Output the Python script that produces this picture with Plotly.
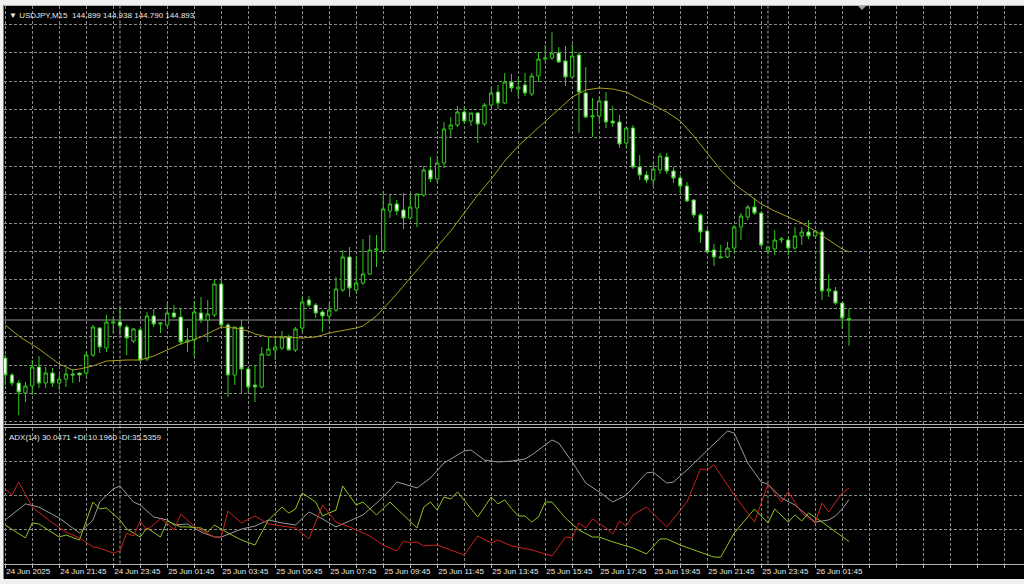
import plotly.graph_objects as go
import pandas as pd

W, H = 1024, 584

symbol = "USDJPY,M15"
start_time = "2025-06-24 19:45"

# ---- price bars (M15) ----
opens = [144.741, 144.673, 144.641, 144.601, 144.629, 144.705, 144.641, 144.681, 144.641, 144.657,
         144.677, 144.681, 144.681, 144.753, 144.861, 144.781, 144.881, 144.885, 144.865, 144.809,
         144.853, 144.737, 144.909, 144.877, 144.873, 144.921, 144.905, 144.805, 144.813, 144.921,
         144.893, 144.913, 145.037, 144.873, 144.673, 144.865, 144.697, 144.633, 144.625, 144.753,
         144.773, 144.781, 144.825, 144.773, 144.861, 144.973, 144.953, 144.925, 144.909, 144.933,
         145.013, 145.145, 145.013, 145.041, 145.077, 145.173, 145.169, 145.329, 145.357, 145.333,
         145.301, 145.341, 145.393, 145.493, 145.457, 145.521, 145.657, 145.673, 145.725, 145.689,
         145.721, 145.677, 145.753, 145.805, 145.761, 145.845, 145.817, 145.833, 145.797, 145.869,
         145.937, 145.941, 145.961, 145.929, 145.865, 145.953, 145.801, 145.705, 145.709, 145.769,
         145.689, 145.685, 145.601, 145.661, 145.505, 145.473, 145.453, 145.493, 145.545, 145.489,
         145.461, 145.429, 145.373, 145.313, 145.249, 145.173, 145.141, 145.145, 145.181, 145.265,
         145.305, 145.345, 145.321, 145.173, 145.177, 145.213, 145.213, 145.181, 145.229, 145.245,
         145.229, 145.245, 145.009, 145.009, 144.961, 144.899]
highs = [144.753, 144.681, 144.653, 144.645, 144.733, 144.749, 144.705, 144.701, 144.677, 144.701,
         144.697, 144.685, 144.765, 144.873, 144.865, 144.913, 144.905, 144.945, 144.873, 144.861,
         144.861, 144.925, 144.937, 144.885, 144.961, 144.953, 144.937, 144.861, 144.969, 144.985,
         144.973, 145.053, 145.061, 144.881, 144.865, 144.893, 144.705, 144.713, 144.785, 144.825,
         144.825, 144.849, 144.833, 144.865, 144.985, 144.989, 144.961, 144.933, 144.961, 145.065,
         145.173, 145.185, 145.145, 145.217, 145.233, 145.233, 145.409, 145.393, 145.373, 145.401,
         145.393, 145.401, 145.509, 145.545, 145.549, 145.685, 145.705, 145.749, 145.745, 145.721,
         145.725, 145.761, 145.825, 145.833, 145.881, 145.877, 145.861, 145.881, 145.881, 145.965,
         145.993, 146.045, 145.985, 145.989, 145.997, 145.965, 145.905, 145.781, 145.785, 145.805,
         145.749, 145.713, 145.665, 145.673, 145.553, 145.489, 145.525, 145.561, 145.561, 145.505,
         145.473, 145.445, 145.377, 145.321, 145.257, 145.197, 145.193, 145.205, 145.273, 145.321,
         145.353, 145.381, 145.329, 145.185, 145.253, 145.225, 145.225, 145.265, 145.265, 145.293,
         145.253, 145.253, 145.077, 145.025, 144.961, 144.938]
lows = [144.633, 144.629, 144.513, 144.565, 144.593, 144.621, 144.621, 144.625, 144.613, 144.625,
        144.641, 144.645, 144.665, 144.745, 144.761, 144.765, 144.841, 144.833, 144.753, 144.801,
        144.725, 144.729, 144.865, 144.841, 144.865, 144.901, 144.793, 144.765, 144.745, 144.881,
        144.805, 144.905, 144.865, 144.585, 144.633, 144.601, 144.601, 144.565, 144.621, 144.749,
        144.733, 144.773, 144.773, 144.765, 144.845, 144.945, 144.901, 144.845, 144.885, 144.925,
        145.005, 144.985, 145.001, 145.033, 145.073, 145.105, 145.161, 145.301, 145.313, 145.257,
        145.293, 145.265, 145.385, 145.445, 145.441, 145.501, 145.625, 145.665, 145.681, 145.669,
        145.601, 145.669, 145.745, 145.737, 145.757, 145.805, 145.785, 145.789, 145.789, 145.845,
        145.925, 145.933, 145.921, 145.829, 145.861, 145.641, 145.701, 145.625, 145.685, 145.661,
        145.665, 145.581, 145.581, 145.497, 145.453, 145.441, 145.425, 145.477, 145.477, 145.441,
        145.401, 145.365, 145.301, 145.201, 145.161, 145.109, 145.141, 145.141, 145.161, 145.213,
        145.293, 145.313, 145.185, 145.157, 145.153, 145.201, 145.153, 145.173, 145.193, 145.217,
        145.225, 144.973, 144.985, 144.953, 144.857, 144.790]
closes = [144.673, 144.641, 144.605, 144.629, 144.705, 144.641, 144.681, 144.641, 144.657, 144.677,
          144.673, 144.673, 144.753, 144.865, 144.785, 144.885, 144.885, 144.869, 144.821, 144.857,
          144.733, 144.909, 144.877, 144.881, 144.921, 144.905, 144.805, 144.813, 144.925, 144.893,
          144.917, 145.037, 144.873, 144.673, 144.865, 144.697, 144.625, 144.625, 144.757, 144.777,
          144.785, 144.825, 144.773, 144.857, 144.965, 144.953, 144.921, 144.909, 144.933, 145.017,
          145.145, 145.021, 145.041, 145.077, 145.173, 145.177, 145.337, 145.357, 145.329, 145.301,
          145.345, 145.397, 145.493, 145.457, 145.521, 145.657, 145.673, 145.725, 145.689, 145.721,
          145.677, 145.753, 145.801, 145.761, 145.845, 145.821, 145.825, 145.801, 145.869, 145.937,
          145.941, 145.961, 145.925, 145.865, 145.949, 145.805, 145.705, 145.709, 145.769, 145.685,
          145.681, 145.597, 145.661, 145.505, 145.473, 145.453, 145.497, 145.549, 145.489, 145.461,
          145.429, 145.369, 145.313, 145.245, 145.165, 145.145, 145.145, 145.181, 145.265, 145.309,
          145.345, 145.321, 145.193, 145.185, 145.213, 145.217, 145.181, 145.229, 145.245, 145.229,
          145.249, 145.009, 145.017, 144.961, 144.901, 144.893]

# ---- moving average (read at bar indices) ----
ma_idx = [0, 2, 5, 8, 10, 11, 13, 15, 18, 20, 22, 24, 26, 29, 31, 32, 34, 36, 37, 39,
          41, 44, 46, 48, 52, 53, 55, 58, 60, 62, 64, 66, 68, 70, 72, 74, 76, 78, 80, 82,
          84, 86, 88, 90, 92, 94, 96, 98, 100, 102, 104, 106, 108, 110, 112, 114, 116, 118, 120, 122,
          124, 125]
ma_val = [144.873, 144.829, 144.777, 144.717, 144.693, 144.697, 144.709, 144.729, 144.733, 144.733,
          144.749, 144.773, 144.797, 144.825, 144.853, 144.865, 144.861, 144.849, 144.837, 144.825,
          144.825, 144.821, 144.825, 144.841, 144.861, 144.869, 144.909, 144.997, 145.061, 145.125,
          145.189, 145.249, 145.321, 145.393, 145.457, 145.529, 145.589, 145.637, 145.685, 145.737,
          145.785, 145.813, 145.821, 145.817, 145.805, 145.777, 145.753, 145.725, 145.689, 145.629,
          145.561, 145.493, 145.437, 145.397, 145.357, 145.329, 145.305, 145.281, 145.249, 145.213,
          145.177, 145.165]

# ---- ADX(14) ----
adx_idx = [0, 1, 3, 5, 8, 11, 13, 14, 16, 17, 19, 20, 22, 24, 25, 27, 29, 31, 32, 35,
           37, 39, 41, 43, 45, 47, 49, 51, 53, 55, 57, 58, 61, 63, 65, 68, 69, 71, 73, 75,
           77, 78, 81, 82, 84, 86, 88, 90, 92, 95, 96, 98, 99, 101, 104, 107, 108, 110, 112, 113,
           115, 117, 120, 122, 123, 124, 125]
adx_val = [20.4, 22.8, 28.0, 26.5, 21.3, 14.2, 20.4, 28.9, 35.1, 36.5, 28.9, 27.5, 21.8, 20.4, 18.0, 18.5, 14.7, 12.3, 12.3, 16.1,
           17.5, 20.4, 19.0, 18.0, 24.2, 20.9, 17.1, 19.9, 22.8, 28.4, 34.6, 38.4, 35.6, 40.3, 47.4, 53.1, 53.6, 48.8, 47.9, 48.3,
           49.3, 51.2, 58.3, 56.9, 47.9, 37.9, 33.7, 28.9, 32.2, 42.7, 43.1, 37.9, 38.4, 44.1, 53.6, 62.6, 61.6, 47.4, 38.4, 37.4,
           30.8, 27.5, 19.4, 20.4, 22.3, 25.6, 30.0471]
pdi_idx = [0, 3, 4, 5, 8, 9, 11, 13, 14, 15, 17, 18, 20, 21, 23, 24, 26, 27, 29, 30,
           31, 33, 35, 37, 39, 41, 42, 43, 44, 46, 47, 49, 50, 52, 53, 55, 57, 61, 62, 63,
           64, 65, 66, 67, 70, 72, 73, 74, 75, 76, 77, 78, 79, 80, 81, 83, 85, 87, 88, 90,
           93, 95, 97, 98, 100, 103, 105, 106, 108, 110, 111, 113, 114, 116, 117, 118, 119, 121, 123, 125]
pdi_val = [18.0, 11.9, 19.0, 18.5, 12.3, 13.3, 10.9, 28.9, 25.6, 26.1, 20.4, 16.1, 12.3, 16.6, 12.3, 19.9, 17.1, 17.1, 16.6, 14.7,
           18.0, 14.2, 10.9, 8.5, 20.4, 26.5, 23.7, 25.6, 33.2, 28.9, 22.3, 25.1, 36.5, 27.5, 28.9, 22.8, 28.9, 16.6, 26.5, 28.9,
           25.1, 31.3, 30.3, 33.7, 21.8, 31.3, 28.0, 29.9, 25.8, 22.3, 22.3, 19.4, 21.8, 28.9, 28.9, 21.3, 15.6, 12.3, 12.3, 10.0,
           7.1, 4.3, 11.4, 11.4, 8.5, 5.2, 2.8, 2.8, 14.2, 21.8, 25.6, 19.0, 25.6, 19.4, 22.8, 19.9, 23.7, 19.4, 14.7, 10.196]
mdi_idx = [0, 1, 2, 4, 7, 9, 11, 13, 14, 16, 17, 18, 19, 20, 21, 23, 24, 25, 26, 28,
           29, 31, 32, 33, 35, 37, 39, 41, 43, 45, 47, 49, 51, 54, 56, 58, 59, 60, 61, 62,
           64, 68, 70, 72, 73, 75, 78, 81, 83, 84, 85, 86, 87, 89, 90, 91, 92, 93, 95, 98,
           100, 101, 103, 104, 105, 108, 110, 111, 113, 115, 116, 118, 120, 121, 122, 124, 125]
mdi_val = [35.1, 32.2, 38.4, 26.5, 19.0, 14.7, 11.9, 7.6, 7.1, 4.7, 5.7, 14.2, 12.8, 19.9, 15.6, 20.9, 19.0, 15.6, 23.2, 17.5,
           15.6, 12.3, 12.3, 24.6, 19.0, 22.3, 18.5, 17.5, 16.6, 11.4, 27.5, 19.4, 17.1, 12.8, 8.5, 5.7, 10.4, 9.5, 10.0, 8.1,
           8.5, 3.8, 12.8, 9.5, 10.9, 8.1, 6.2, 3.3, 12.3, 11.9, 19.0, 16.6, 20.9, 16.6, 13.7, 19.9, 17.5, 22.8, 26.5, 17.1,
           25.1, 28.9, 44.6, 44.1, 46.5, 32.2, 23.7, 19.4, 37.4, 28.9, 33.7, 23.7, 19.0, 28.4, 24.2, 33.2, 35.5359]

# ---- styling ----
BG = "#000000"
GRID = "#8a8a8a"
DASH = "3px,2px"
CANDLE = "#34c81e"
MA_COL = "#aaa01e"
ADX_COL = "#9a9a9a"
PDI_COL = "#8fc31f"
MDI_COL = "#c8231b"
TXT = "#e8e8e8"
FONT = "Liberation Sans"

n = len(opens)
bars = list(range(n))
times = pd.date_range(start_time, periods=n, freq="15min")

x_range = [-0.18, 150.93]
main_dom = [1 - 424 / H, 1 - 6 / H]
adx_dom = [1 - 563.5 / H, 1 - 428 / H]
x_dom = [4 / W, 1]

tickvals = list(range(0, 152, 4))
ticktext = []
for v in tickvals:
    if v % 8 == 0 and v < n:
        t = times[v]
        ticktext.append(f"{t.day} {t.strftime('%b')} {t.year}" if v == 0 else f"{t.day} {t.strftime('%b')} {t.strftime('%H:%M')}")
    else:
        ticktext.append("")

fig = go.Figure()
fig.add_trace(go.Candlestick(
    x=bars, open=opens, high=highs, low=lows, close=closes,
    increasing=dict(line=dict(color=CANDLE, width=1), fillcolor="#000000"),
    decreasing=dict(line=dict(color=CANDLE, width=1), fillcolor="#ffffff"),
    whiskerwidth=0, xaxis="x", yaxis="y", hoverinfo="skip", showlegend=False))
fig.add_trace(go.Scatter(x=ma_idx, y=ma_val, mode="lines", line=dict(color=MA_COL, width=1),
                         xaxis="x", yaxis="y", hoverinfo="skip", showlegend=False))
fig.add_trace(go.Scatter(x=adx_idx, y=adx_val, mode="lines", line=dict(color=ADX_COL, width=1),
                         xaxis="x2", yaxis="y2", hoverinfo="skip", showlegend=False))
fig.add_trace(go.Scatter(x=pdi_idx, y=pdi_val, mode="lines", line=dict(color=PDI_COL, width=1),
                         xaxis="x2", yaxis="y2", hoverinfo="skip", showlegend=False))
fig.add_trace(go.Scatter(x=mdi_idx, y=mdi_val, mode="lines", line=dict(color=MDI_COL, width=1),
                         xaxis="x2", yaxis="y2", hoverinfo="skip", showlegend=False))

common_x = dict(domain=x_dom, range=x_range, showgrid=True, gridcolor=GRID, griddash=DASH, gridwidth=1,
                zeroline=False, showline=True, linecolor="#b4b4b4", linewidth=1, mirror=True,
                automargin=False)
fig.update_layout(
    width=W, height=H, margin=dict(l=0, r=0, t=0, b=0, pad=0), autosize=False,
    paper_bgcolor=BG, plot_bgcolor=BG, showlegend=False,
    font=dict(family=FONT, size=8, color=TXT),
    xaxis=dict(**common_x, anchor="y", tickmode="linear", tick0=0, dtick=4, showticklabels=False,
               ticks="", rangeslider=dict(visible=False)),
    yaxis=dict(domain=main_dom, range=[144.477, 146.149], tickmode="linear", tick0=146.076, dtick=0.1136,
               showgrid=True, gridcolor=GRID, griddash=DASH, gridwidth=1, zeroline=False,
               showticklabels=False, ticks="", automargin=False),
    xaxis2=dict(**common_x, anchor="y2", tickmode="array", tickvals=tickvals, ticktext=ticktext,
                ticks="outside", ticklen=3, tickcolor="#b4b4b4", ticklabelposition="outside right",
                tickangle=0, tickfont=dict(family=FONT, size=8, color=TXT)),
    yaxis2=dict(domain=adx_dom, range=[-0.24, 64], tickmode="linear", tick0=0, dtick=16,
                showgrid=True, gridcolor=GRID, griddash=DASH, gridwidth=1, zeroline=False,
                showticklabels=False, ticks="", automargin=False),
)

shapes = []
# bid line at last close
shapes.append(dict(type="line", xref="paper", yref="y", x0=x_dom[0], x1=1, y0=closes[-1], y1=closes[-1],
                   line=dict(color="#9a9a9a", width=1), layer="below"))
# day separators
for i, t in enumerate(times):
    if t.hour == 0 and t.minute == 0:
        shapes.append(dict(type="line", xref="x", yref="paper", x0=i, x1=i, y0=adx_dom[0], y1=main_dom[1],
                           line=dict(color="#a0a0a0", width=1, dash="3px,2px"), layer="below"))
# window frame
shapes.append(dict(type="rect", xref="paper", yref="paper", x0=0, x1=1, y0=1 - 5 / H, y1=1,
                   fillcolor="#f0f0f0", line=dict(width=0), layer="above"))
shapes.append(dict(type="rect", xref="paper", yref="paper", x0=0, x1=1, y0=0, y1=1 - 579 / H,
                   fillcolor="#f0f0f0", line=dict(width=0), layer="above"))
shapes.append(dict(type="rect", xref="paper", yref="paper", x0=0, x1=3 / W, y0=0, y1=1,
                   fillcolor="#f0f0f0", line=dict(width=0), layer="above"))
shapes.append(dict(type="line", xref="paper", yref="paper", x0=3.5 / W, x1=3.5 / W, y0=1 - 579 / H, y1=1 - 5 / H,
                   line=dict(color="#808080", width=1), layer="above"))
# chart shift marker
shapes.append(dict(type="path", xref="paper", yref="paper",
                   path=f"M {858/W},{1-6/H} L {866/W},{1-6/H} L {862/W},{1-10/H} Z",
                   fillcolor="#a0a0a0", line=dict(width=0), layer="above"))
fig.update_layout(shapes=shapes)

header = f"▼ {symbol}  {opens[-1]:.3f} {highs[-1]:.3f} {lows[-1]:.3f} {closes[-1]:.3f}"
adx_label = f"ADX(14) {adx_val[-1]:.4f} +DI:{pdi_val[-1]:.4f} -DI:{mdi_val[-1]:.4f}"
fig.add_annotation(text=header, xref="paper", yref="paper", x=7 / W, y=1 - 15.5 / H,
                   xanchor="left", yanchor="middle", showarrow=False,
                   font=dict(family=FONT, size=8, color=TXT))
fig.add_annotation(text=adx_label, xref="paper", yref="paper", x=7 / W, y=1 - 437 / H,
                   xanchor="left", yanchor="middle", showarrow=False,
                   font=dict(family=FONT, size=8, color=TXT))

fig.write_html("out.html", config={"displayModeBar": False},
               post_script="document.body.style.margin='0';document.body.style.overflow='hidden';")
